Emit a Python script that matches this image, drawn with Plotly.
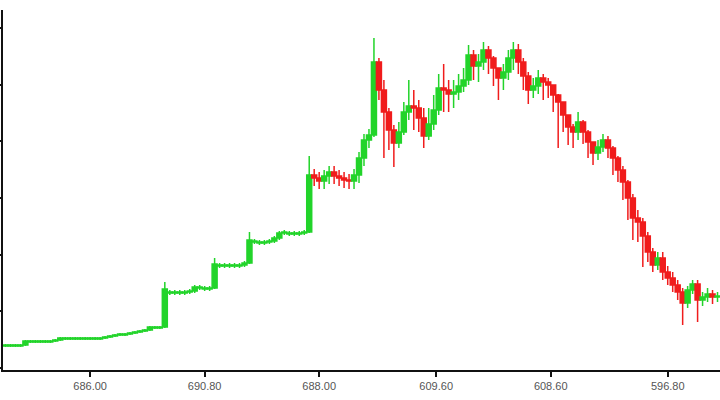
import plotly.graph_objects as go

opens = [24, 24, 24, 24, 25, 28, 28, 28, 28, 28,
         29, 30, 31, 31, 31, 31, 31, 31, 31, 31,
         32, 33, 34, 35, 35, 36, 37, 38, 39, 40,
         42, 42, 43, 77, 77, 77, 77, 78, 79, 82,
         81, 81, 82, 104, 104, 104, 104, 104, 105, 107,
         128, 127, 127, 128, 129, 132, 137, 136, 136, 136,
         137, 138, 195, 192, 189, 194, 198, 194, 192, 190,
         189, 195, 212, 230, 235, 308, 280, 258, 240, 227,
         238, 258, 264, 262, 252, 234, 246, 260, 282, 280,
         276, 278, 284, 290, 315, 304, 308, 320, 312, 302,
         292, 298, 312, 320, 308, 294, 280, 284, 292, 288,
         285, 275, 268, 255, 243, 238, 248, 238, 228, 217,
         223, 230, 222, 212, 200, 188, 172, 152, 148, 134,
         118, 105, 112, 98, 92, 85, 78, 67, 80, 86,
         70, 73, 76, 73]
closes = [25, 25, 25, 25, 29, 29, 29, 29, 29, 29,
          30, 32, 32, 32, 32, 32, 32, 32, 32, 32,
          33, 34, 35, 36, 36, 37, 38, 39, 40, 43,
          43, 43, 81, 78, 78, 78, 78, 79, 83, 83,
          82, 82, 106, 105, 105, 105, 105, 105, 107, 130,
          129, 128, 128, 129, 132, 137, 138, 137, 137, 137,
          138, 195, 192, 189, 194, 198, 194, 192, 190, 189,
          195, 212, 230, 235, 308, 280, 258, 240, 227, 238,
          258, 264, 262, 252, 234, 246, 260, 282, 280, 276,
          278, 284, 290, 315, 304, 308, 320, 312, 302, 292,
          298, 312, 320, 308, 294, 280, 284, 292, 288, 285,
          275, 268, 255, 243, 238, 248, 238, 228, 217, 223,
          230, 222, 212, 200, 188, 172, 152, 148, 134, 118,
          105, 112, 98, 92, 85, 78, 67, 80, 86, 70,
          73, 76, 73, 74]
highs = [26, 26, 26, 26, 30, 30, 30, 30, 30, 30,
         31, 33, 33, 33, 33, 33, 33, 33, 33, 33,
         34, 35, 36, 37, 37, 38, 39, 40, 41, 44,
         44, 44, 88, 80, 80, 80, 80, 81, 85, 85,
         84, 84, 112, 107, 107, 107, 107, 107, 109, 138,
         131, 130, 130, 131, 134, 139, 140, 139, 139, 139,
         140, 214, 201, 198, 200, 204, 204, 200, 198, 196,
         201, 218, 236, 241, 332, 312, 290, 262, 245, 248,
         268, 290, 280, 270, 262, 262, 275, 296, 306, 290,
         290, 296, 302, 325, 320, 316, 328, 324, 314, 300,
         306, 320, 328, 326, 312, 298, 292, 300, 296, 292,
         284, 276, 262, 252, 246, 258, 250, 240, 226, 230,
         236, 234, 224, 214, 204, 190, 176, 160, 152, 138,
         122, 118, 118, 104, 98, 90, 82, 84, 90, 90,
         78, 82, 80, 78]
lows = [23, 23, 23, 23, 24, 27, 27, 27, 27, 27,
        28, 29, 30, 30, 30, 30, 30, 30, 30, 30,
        31, 32, 33, 34, 34, 35, 36, 37, 38, 39,
        41, 41, 42, 75, 75, 75, 75, 76, 77, 80,
        79, 79, 81, 102, 102, 102, 102, 102, 103, 106,
        126, 125, 125, 126, 127, 130, 135, 134, 134, 134,
        135, 137, 184, 181, 181, 186, 186, 184, 182, 181,
        181, 187, 204, 222, 233, 270, 212, 220, 203, 222,
        235, 250, 240, 238, 222, 230, 240, 255, 258, 258,
        262, 270, 278, 285, 290, 288, 300, 296, 284, 270,
        280, 290, 300, 296, 280, 266, 272, 276, 270, 272,
        258, 222, 238, 225, 222, 230, 226, 212, 205, 210,
        218, 212, 195, 188, 170, 150, 130, 128, 103, 108,
        98, 100, 90, 85, 78, 70, 45, 62, 76, 48,
        64, 68, 66, 68]

tick_positions = [17, 40, 63, 86.5, 109.5, 133]
tick_labels = ["686.00", "690.80", "688.00", "609.60", "608.60", "596.80"]

x = list(range(len(closes)))

fig = go.Figure(go.Candlestick(
    x=x, open=opens, high=highs, low=lows, close=closes,
    increasing=dict(line=dict(color="#22d42a", width=1.5), fillcolor="#22d42a"),
    decreasing=dict(line=dict(color="#f01c1c", width=1.5), fillcolor="#f01c1c"),
    whiskerwidth=0, showlegend=False,
))

fig.update_layout(
    width=720, height=400,
    margin=dict(l=3, r=0, t=10, b=30),
    boxgap=0, boxgroupgap=0,
    paper_bgcolor="white", plot_bgcolor="white",
    font=dict(family="Liberation Sans, Arial, sans-serif", size=11, color="#444"),
    xaxis=dict(
        range=[-0.5, len(closes) - 0.5], rangeslider=dict(visible=False),
        showgrid=False, zeroline=False,
        showline=True, linecolor="#111", linewidth=2,
        ticks="outside", ticklen=5, tickwidth=2, tickcolor="#111",
        tickvals=tick_positions, ticktext=tick_labels,
        tickfont=dict(size=11, color="#555"),
    ),
    yaxis=dict(
        range=[0, 360], showgrid=False, zeroline=False,
        showline=True, linecolor="#111", linewidth=2,
        ticks="outside", ticklen=3, tickwidth=2, tickcolor="#111",
        tick0=2, dtick=56.7, showticklabels=False,
    ),
)

fig.write_html("out.html", config={"displayModeBar": False},
               post_script="document.body.style.margin='0';")
